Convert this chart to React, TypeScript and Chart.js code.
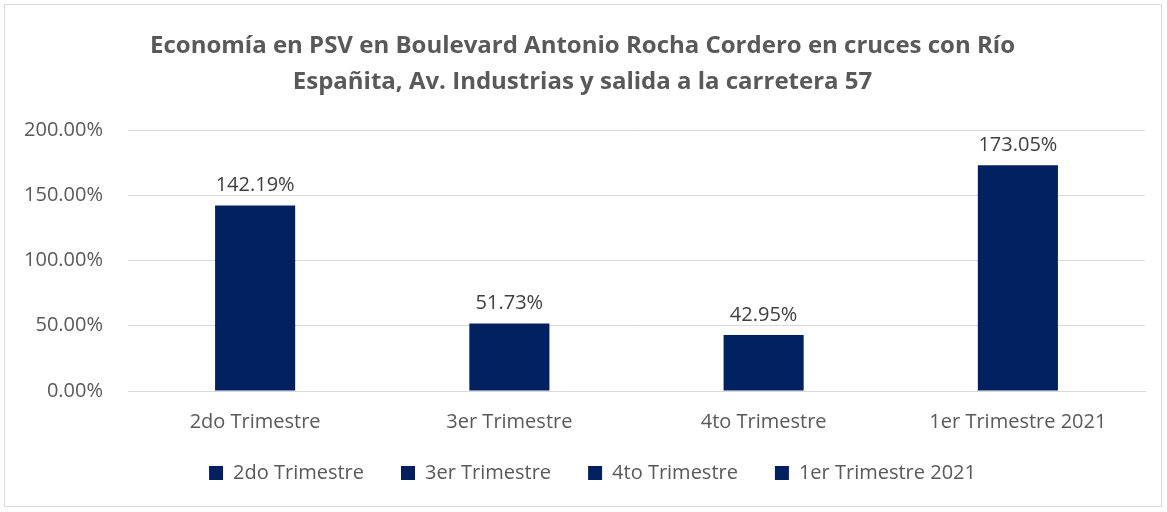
import React, { useEffect, useRef } from "react";
import { Chart, registerables } from "chart.js";

Chart.register(...registerables);

const categories = ["2do Trimestre", "3er Trimestre", "4to Trimestre", "1er Trimestre 2021"];
const values = [142.19, 51.73, 42.95, 173.05];
const yTicks = [0, 50, 100, 150, 200];
const titleLines = [
  "Economía en PSV en Boulevard Antonio Rocha Cordero en cruces con Río",
  "Españita, Av. Industrias y salida a la carretera 57",
];

const BAR = "#002060";
const TEXT = "#595959";
const FONT = "'Open Sans'";

const labelPlugin = {
  id: "valueLabels",
  afterLayout(chart: any) {
    if (chart.legend) {
      chart.legend.left += 10;
      chart.legend.right += 10;
      chart.legend.top -= 13;
      chart.legend.bottom -= 13;
    }
  },
  afterDatasetsDraw(chart: any) {
    const { ctx } = chart;
    const meta = chart.getDatasetMeta(0);
    ctx.save();
    ctx.fillStyle = "#404040";
    ctx.font = `20px ${FONT}`;
    ctx.textAlign = "center";
    ctx.textBaseline = "bottom";
    meta.data.forEach((el: any, i: number) => {
      const v = chart.data.datasets[0].data[i] as number;
      ctx.fillText(v.toFixed(2) + "%", el.x, el.y - 10);
    });
    ctx.restore();
  },
};

export default function App() {
  const ref = useRef<HTMLCanvasElement>(null);
  useEffect(() => {
    document.body.style.margin = "0";
    const chart = new Chart(ref.current!, {
      type: "bar",
      data: {
        labels: categories,
        datasets: [
          {
            label: "Economía",
            data: values,
            backgroundColor: BAR,
            barPercentage: 0.315,
            categoryPercentage: 1,
          },
        ],
      },
      plugins: [labelPlugin],
      options: {
        responsive: false,
        animation: false,
        layout: { padding: { left: 20, right: 22, top: 0, bottom: 6 } },
        plugins: {
          title: {
            display: true,
            text: titleLines,
            color: TEXT,
            font: { family: FONT, size: 24, weight: "bold", lineHeight: 1.5 },
            padding: { top: 28, bottom: 30 },
          },
          legend: {
            position: "bottom",
            labels: {
              color: TEXT,
              font: { family: FONT, size: 20 },
              boxWidth: 14,
              boxHeight: 14,
              padding: 37,
              generateLabels: () =>
                categories.map((c, i) => ({
                  text: c,
                  fillStyle: BAR,
                  strokeStyle: BAR,
                  lineWidth: 0,
                  hidden: false,
                  index: i,
                  fontColor: TEXT,
                })),
            },
            onClick: () => {},
          },
          tooltip: { enabled: false },
        },
        scales: {
          x: {
            grid: { display: false },
            border: { color: "#d9d9d9" },
            ticks: { color: TEXT, font: { family: FONT, size: 20 }, padding: 11 },
            afterFit: (s: any) => {
              s.height = 48;
            },
          },
          y: {
            min: 0,
            max: 200,
            afterBuildTicks: (s: any) => {
              s.ticks = yTicks.map((v) => ({ value: v }));
            },
            grid: { color: "#d9d9d9", drawTicks: false },
            border: { display: false },
            ticks: {
              color: TEXT,
              font: { family: FONT, size: 20 },
              padding: 25,
              callback: (v: any) => Number(v).toFixed(2) + "%",
            },
            afterFit: (s: any) => {
              s.width = 108;
            },
          },
        },
      },
    });
    return () => chart.destroy();
  }, []);
  return (
    <div style={{ position: "relative", width: 1167, height: 512, background: "#fff" }}>
      <div
        style={{
          position: "absolute",
          left: 4,
          top: 4,
          width: 1158,
          height: 503,
          border: "1px solid #d9d9d9",
          boxSizing: "border-box",
        }}
      />
      <canvas ref={ref} width={1167} height={512} style={{ position: "absolute", left: 0, top: 0 }} />
    </div>
  );
}
